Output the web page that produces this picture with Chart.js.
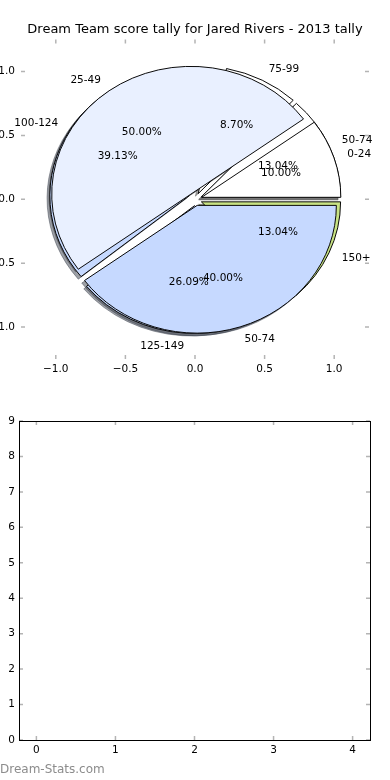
<!DOCTYPE html>
<html>
<head>
<meta charset="utf-8">
<script src="https://cdn.jsdelivr.net/npm/chart.js@4.4.1/dist/chart.umd.min.js"></script>
<style>
  html, body { margin: 0; padding: 0; background: #fff; }
  #wrap { position: relative; width: 390px; height: 780px; }
  canvas { position: absolute; left: 0; }
  #pieChart { top: 0; }
  #emptyChart { top: 390px; }
</style>
</head>
<body>
<div id="wrap">
  <canvas id="pieChart" width="390" height="390"></canvas>
  <canvas id="emptyChart" width="390" height="390"></canvas>
</div>
<script>
// two pies share one axes (drawn on top of each other, like the original)
const pieOneLabels = ['50-74', '75-99', '100-124', '125-149', '150+'];
const pieOneValues = [3, 2, 9, 6, 3];
const pieTwoLabels = ['0-24', '25-49', '50-74'];
const pieTwoValues = [1, 5, 4];

const pieTicks = [-1.0, -0.5, 0.0, 0.5, 1.0];
const emptyXTicks = [0, 1, 2, 3, 4];
const emptyYTicks = [0, 1, 2, 3, 4, 5, 6, 7, 8, 9];

const pieOneColors = ['#ffffff', '#ffffff', '#c6d9ff', '#c6d9ff', '#c8e384'];
const pieTwoColors = ['#ffffff', '#e9f0ff', '#c6d9ff'];

const explode = 0.05;
const shadowShift = 0.02;
const labelDistance = 1.1;
const pctDistance = 0.6;

Chart.defaults.font.family = 'DejaVu Sans';
Chart.defaults.font.size = 10.5;
Chart.defaults.color = '#000';
Chart.defaults.animation = false;

function shadowOf(hex) {
  const n = parseInt(hex.slice(1), 16);
  const r = Math.round(((n >> 16) & 255) * 0.3);
  const g = Math.round(((n >> 8) & 255) * 0.3);
  const b = Math.round((n & 255) * 0.3);
  return 'rgba(' + r + ',' + g + ',' + b + ',0.5)';
}

// chart.js runs clockwise, matplotlib counter-clockwise -> reversed order
function pieDataset(values, colors, order) {
  return {
    type: 'pie',
    data: values.slice().reverse(),
    backgroundColor: colors.slice().reverse(),
    borderColor: '#000',
    borderWidth: 1,
    borderJoinStyle: 'miter',
    rotation: 90,
    order: order,
    clip: false
  };
}

function pieArcs(chart) {
  let arcs = [];
  chart.data.datasets.forEach((ds, i) => {
    if (ds.type === 'pie') arcs = arcs.concat(chart.getDatasetMeta(i).data);
  });
  return arcs;
}

function insideTicks(chart) {
  const ctx = chart.ctx;
  const a = chart.chartArea;
  ctx.save();
  ctx.strokeStyle = '#b4b4b4';
  ctx.lineWidth = 1.5;
  ctx.beginPath();
  chart.scales.x.ticks.forEach(t => {
    const px = chart.scales.x.getPixelForValue(t.value);
    ctx.moveTo(px, a.top); ctx.lineTo(px, a.top + 4);
    ctx.moveTo(px, a.bottom); ctx.lineTo(px, a.bottom - 4);
  });
  chart.scales.y.ticks.forEach(t => {
    const py = chart.scales.y.getPixelForValue(t.value);
    ctx.moveTo(a.left, py); ctx.lineTo(a.left + 4, py);
    ctx.moveTo(a.right, py); ctx.lineTo(a.right - 4, py);
  });
  ctx.stroke();
  ctx.restore();
}

function drawPieTexts(chart, labels, values) {
  const ctx = chart.ctx;
  const x = chart.scales.x, y = chart.scales.y;
  const total = values.reduce((s, v) => s + v, 0);
  let start = 0;
  ctx.save();
  ctx.font = '10.5px DejaVu Sans';
  ctx.fillStyle = '#000';
  ctx.textBaseline = 'middle';
  values.forEach((v, i) => {
    const frac = v / total;
    const mid = (start + frac / 2) * 2 * Math.PI;
    start += frac;
    const ox = explode * Math.cos(mid), oy = explode * Math.sin(mid);
    const lx = ox + labelDistance * Math.cos(mid);
    const ly = oy + labelDistance * Math.sin(mid);
    ctx.textAlign = lx > 0 ? 'left' : 'right';
    ctx.fillText(labels[i], x.getPixelForValue(lx), y.getPixelForValue(ly));
    const px = ox + pctDistance * Math.cos(mid);
    const py = oy + pctDistance * Math.sin(mid);
    ctx.textAlign = 'center';
    ctx.fillText((frac * 100).toFixed(2) + '%', x.getPixelForValue(px), y.getPixelForValue(py));
  });
  ctx.restore();
}

const mplPie = {
  id: 'mplPie',
  afterDatasetsUpdate(chart) {
    const x = chart.scales.x, y = chart.scales.y;
    const cx = x.getPixelForValue(0), cy = y.getPixelForValue(0);
    const r = x.getPixelForValue(1) - cx;
    pieArcs(chart).forEach(arc => {
      const mid = (arc.startAngle + arc.endAngle) / 2;
      arc.x = cx + Math.cos(mid) * explode * r;
      arc.y = cy + Math.sin(mid) * explode * r;
      arc.outerRadius = r;
      arc.innerRadius = 0;
    });
  },
  beforeDatasetsDraw(chart) {
    const ctx = chart.ctx;
    const x = chart.scales.x, y = chart.scales.y;
    const cx = x.getPixelForValue(0), cy = y.getPixelForValue(0);
    const r = x.getPixelForValue(1) - cx;
    const k = (cy - y.getPixelForValue(1)) / r;
    ctx.save();
    // axes are not square, so the pies come out as ellipses
    ctx.translate(cx, cy);
    ctx.scale(1, k);
    ctx.translate(-cx, -cy);
    // shadows under every wedge
    ctx.save();
    ctx.translate(-shadowShift * r, shadowShift * r);
    pieArcs(chart).forEach(arc => {
      const o = arc.options;
      const c = shadowOf(o.backgroundColor);
      arc.options = Object.assign({}, o, {backgroundColor: c, borderColor: c});
      arc.draw(ctx);
      arc.options = o;
    });
    ctx.restore();
  },
  afterDatasetsDraw(chart) {
    chart.ctx.restore();
    drawPieTexts(chart, pieOneLabels, pieOneValues);
    drawPieTexts(chart, pieTwoLabels, pieTwoValues);
    insideTicks(chart);
  }
};

function tickText(v) {
  return (v < 0 ? '\u2212' : '') + Math.abs(v).toFixed(1);
}

new Chart(document.getElementById('pieChart'), {
  type: 'scatter',
  data: {
    datasets: [
      pieDataset(pieOneValues, pieOneColors, 1),
      pieDataset(pieTwoValues, pieTwoColors, 0)
    ]
  },
  options: {
    responsive: false,
    events: [],
    plugins: {
      legend: { display: false },
      tooltip: { enabled: false },
      title: {
        display: true,
        text: 'Dream Team score tally for Jared Rivers - 2013 tally',
        font: { size: 13, weight: 'normal' },
        color: '#000',
        padding: { top: 22, bottom: 2 }
      }
    },
    scales: {
      x: {
        type: 'linear', min: -1.25, max: 1.25,
        afterBuildTicks: s => { s.ticks = pieTicks.map(v => ({ value: v })); },
        afterFit: s => { s.height = 31; },
        grid: { display: false, drawTicks: false },
        border: { display: false },
        ticks: { padding: 4, maxRotation: 0, callback: tickText }
      },
      y: {
        type: 'linear', min: -1.25, max: 1.25,
        afterBuildTicks: s => { s.ticks = pieTicks.map(v => ({ value: v })); },
        afterFit: s => { s.width = 21; },
        grid: { display: false, drawTicks: false },
        border: { display: false },
        ticks: { padding: 6, callback: tickText }
      },
      // empty right axis just keeps the plot box off the right edge
      yRight: {
        type: 'linear', position: 'right', min: -1.25, max: 1.25,
        afterFit: s => { s.width = 21; },
        grid: { display: false, drawTicks: false },
        border: { display: false },
        ticks: { display: false }
      }
    }
  },
  plugins: [mplPie]
});

// second panel: empty axes with the site name under it
const frameAndMark = {
  id: 'frameAndMark',
  afterDraw(chart) {
    const ctx = chart.ctx;
    const a = chart.chartArea;
    insideTicks(chart);
    ctx.save();
    ctx.strokeStyle = '#000';
    ctx.lineWidth = 1;
    ctx.strokeRect(a.left + 0.5, a.top + 0.5, a.right - a.left, a.bottom - a.top);
    ctx.font = '12px DejaVu Sans';
    ctx.fillStyle = '#8c8c8c';
    ctx.textAlign = 'left';
    ctx.textBaseline = 'middle';
    ctx.fillText('Dream-Stats.com', 0, 380);
    ctx.restore();
  }
};

new Chart(document.getElementById('emptyChart'), {
  type: 'scatter',
  data: { datasets: [] },
  options: {
    responsive: false,
    events: [],
    layout: { padding: { top: 31, right: 20 } },
    plugins: { legend: { display: false }, tooltip: { enabled: false } },
    scales: {
      x: {
        type: 'linear', min: -0.22, max: 4.22,
        afterBuildTicks: s => { s.ticks = emptyXTicks.map(v => ({ value: v })); },
        afterFit: s => { s.height = 40; },
        grid: { display: false, drawTicks: false },
        border: { display: false },
        ticks: { padding: 4, maxRotation: 0 }
      },
      y: {
        type: 'linear', min: 0, max: 9,
        afterBuildTicks: s => { s.ticks = emptyYTicks.map(v => ({ value: v })); },
        afterFit: s => { s.width = 19; },
        grid: { display: false, drawTicks: false },
        border: { display: false },
        ticks: { padding: 4 }
      }
    }
  },
  plugins: [frameAndMark]
});
</script>
</body>
</html>
